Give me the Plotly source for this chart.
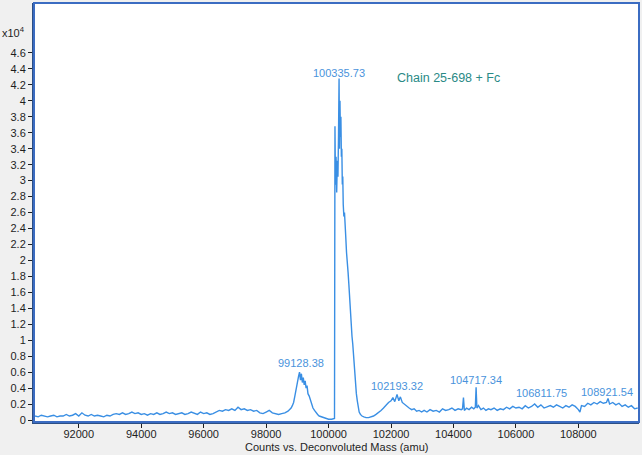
import plotly.graph_objs as go

# deconvoluted mass spectrum, counts in units of 1e4
mass_low = [90600, 90700, 90800, 90900, 91000, 91100, 91200, 91300, 91400, 91500,
            91600, 91700, 91800, 91900, 92000, 92100, 92200, 92300, 92400, 92500,
            92600, 92700, 92800, 92900, 93000, 93100, 93200, 93300, 93400, 93500,
            93600, 93700, 93800, 93900, 94000, 94100, 94200, 94300, 94400, 94500,
            94600, 94700, 94800, 94900, 95000, 95100, 95200, 95300, 95400, 95500,
            95600, 95700, 95800, 95900, 96000, 96100, 96200, 96300, 96400, 96500,
            96600, 96700, 96800, 96900, 97000, 97100, 97200, 97300, 97400, 97500,
            97600, 97700, 97800, 97900, 98000, 98100, 98200, 98300, 98400, 98500,
            98600, 98700, 98800]
counts_low = [0.05, 0.04, 0.06, 0.05, 0.04, 0.05, 0.06, 0.04, 0.05, 0.05,
              0.07, 0.05, 0.06, 0.08, 0.05, 0.09, 0.06, 0.05, 0.07, 0.05,
              0.06, 0.05, 0.04, 0.06, 0.05, 0.07, 0.08, 0.07, 0.09, 0.07,
              0.08, 0.10, 0.08, 0.09, 0.07, 0.08, 0.06, 0.08, 0.07, 0.09,
              0.07, 0.08, 0.10, 0.08, 0.09, 0.07, 0.08, 0.09, 0.07, 0.08,
              0.10, 0.08, 0.07, 0.10, 0.08, 0.09, 0.07, 0.08, 0.10, 0.12,
              0.11, 0.13, 0.12, 0.14, 0.12, 0.16, 0.13, 0.14, 0.12, 0.13,
              0.11, 0.12, 0.09, 0.08, 0.10, 0.12, 0.09, 0.08, 0.07, 0.08,
              0.09, 0.11, 0.15]

# shoulder peak near 99128
mass_p1 = [98840, 98880, 98920, 98960, 99000, 99040, 99070, 99100, 99130, 99160,
           99190, 99220, 99250, 99280, 99310, 99340, 99380, 99420, 99460, 99500,
           99550, 99600, 99650, 99700, 99760, 99820, 99900, 100000, 100100, 100190]
counts_p1 = [0.18, 0.22, 0.30, 0.40, 0.46, 0.55, 0.60, 0.50, 0.58, 0.47,
             0.53, 0.44, 0.49, 0.40, 0.43, 0.33, 0.30, 0.24, 0.21, 0.15,
             0.12, 0.09, 0.07, 0.05, 0.04, 0.03, 0.02, 0.01, 0.01, 0.02]

# main peak 100335.73
mass_main = [100205, 100220, 100240, 100260, 100280, 100300, 100318, 100336, 100350, 100365,
             100380, 100395, 100410, 100425, 100440, 100455, 100470, 100490, 100510, 100530,
             100550, 100575, 100600, 100625, 100650, 100675, 100700, 100725, 100750, 100775,
             100800, 100830, 100860, 100890, 100920, 100950, 100980, 101020, 101070, 101130,
             101200, 101280, 101360, 101440]
counts_main = [3.68, 2.95, 3.30, 2.85, 3.25, 3.05, 3.55, 4.28, 3.40, 4.00,
               3.55, 3.80, 3.30, 3.40, 2.95, 3.05, 2.70, 2.55, 2.60, 2.35,
               2.30, 2.10, 2.00, 1.85, 1.70, 1.50, 1.38, 1.20, 1.05, 0.95,
               0.80, 0.64, 0.45, 0.33, 0.24, 0.16, 0.10, 0.07, 0.05, 0.04,
               0.03, 0.03, 0.04, 0.05]

# tail region up to 109900
mass_high = [101520, 101600, 101680, 101760, 101840, 101920, 102000, 102060, 102120, 102193,
             102250, 102300, 102360, 102420, 102500, 102580, 102660, 102740, 102820, 102900,
             102980, 103060, 103150, 103250, 103350, 103450, 103550, 103650, 103750, 103850,
             103950, 104050, 104150, 104250, 104290, 104320, 104350, 104420, 104500, 104580,
             104650, 104700, 104725, 104750, 104800, 104880, 104960, 105040, 105120, 105200,
             105300, 105400, 105500, 105600, 105700, 105800, 105900, 106000, 106100, 106200,
             106300, 106400, 106500, 106600, 106700, 106800, 106900, 107000, 107100, 107200,
             107300, 107400, 107500, 107600, 107700, 107800, 107900, 108000, 108050, 108100,
             108200, 108300, 108400, 108500, 108600, 108700, 108800, 108900, 108950, 109000,
             109100, 109200, 109300, 109400, 109500, 109600, 109700, 109800, 109900]
counts_high = [0.07, 0.09, 0.12, 0.15, 0.19, 0.22, 0.24, 0.28, 0.23, 0.32,
               0.24, 0.29, 0.22, 0.20, 0.17, 0.15, 0.13, 0.14, 0.11, 0.12,
               0.10, 0.12, 0.10, 0.13, 0.11, 0.12, 0.10, 0.14, 0.12, 0.13,
               0.15, 0.12, 0.14, 0.13, 0.14, 0.28, 0.12, 0.15, 0.13, 0.16,
               0.14, 0.16, 0.41, 0.15, 0.18, 0.13, 0.15, 0.12, 0.14, 0.13,
               0.15, 0.12, 0.14, 0.13, 0.16, 0.14, 0.17, 0.15, 0.16, 0.14,
               0.18, 0.15, 0.17, 0.20, 0.16, 0.19, 0.15, 0.17, 0.18, 0.16,
               0.19, 0.17, 0.15, 0.18, 0.16, 0.19, 0.17, 0.13, 0.10, 0.18,
               0.17, 0.21, 0.19, 0.22, 0.20, 0.23, 0.21, 0.22, 0.27, 0.20,
               0.22, 0.19, 0.21, 0.17, 0.19, 0.16, 0.18, 0.14, 0.15]

# peak labels
label_mass = [100335.73, 99128.38, 102193.32, 104717.34, 106811.75, 108921.54]
label_y = [4.35, 0.71, 0.42, 0.50, 0.34, 0.35]

ytick_vals = [0, 0.2, 0.4, 0.6, 0.8, 1, 1.2, 1.4, 1.6, 1.8, 2, 2.2, 2.4,
              2.6, 2.8, 3, 3.2, 3.4, 3.6, 3.8, 4, 4.2, 4.4, 4.6]
ytick_text = ['0', '0.2', '0.4', '0.6', '0.8', '1', '1.2', '1.4', '1.6', '1.8', '2', '2.2', '2.4',
              '2.6', '2.8', '3', '3.2', '3.4', '3.6', '3.8', '4', '4.2', '4.4', '4.6']
xtick_vals = [92000, 94000, 96000, 98000, 100000, 102000, 104000, 106000, 108000]

mass = mass_low + mass_p1 + mass_main + mass_high
counts = counts_low + counts_p1 + counts_main + counts_high

font = 'Liberation Sans, Arial, sans-serif'

trace = go.Scatter(x=mass, y=counts, mode='lines',
                   line={'color': '#3a8fe4', 'width': 1.4},
                   showlegend=False, hoverinfo='x+y')

notes = []
for m, yv in zip(label_mass, label_y):
    notes.append(dict(x=m, y=yv, xref='x', yref='y', text='%.2f' % m,
                      showarrow=False, font={'family': font, 'size': 11, 'color': '#4a93dc'}))

notes.append(dict(x=103830, y=4.29, xref='x', yref='y', text='Chain 25-698 + Fc',
                  showarrow=False, font={'family': font, 'size': 12.5, 'color': '#2a8a86'}))
notes.append(dict(x=-0.056, y=0.931, xref='paper', yref='paper', xanchor='left', yanchor='middle',
                  text='x10<sup>4</sup>', showarrow=False,
                  font={'family': font, 'size': 11, 'color': '#1e1e1e'}))
notes.append(dict(x=0.5, y=-0.06, xref='paper', yref='paper', yanchor='middle',
                  text='Counts vs. Deconvoluted Mass (amu)', showarrow=False,
                  font={'family': font, 'size': 11, 'color': '#1e1e1e'}))

layout = go.Layout(
    width=642, height=455,
    margin={'l': 34, 'r': 3, 't': 3, 'b': 33},
    paper_bgcolor='#f0f0f0', plot_bgcolor='#ffffff',
    font={'family': font, 'size': 11, 'color': '#1e1e1e'},
    xaxis={'range': [90566, 109942], 'tickvals': xtick_vals, 'tickformat': 'd',
           'automargin': False, 'ticklabelstandoff': -3,
           'showgrid': False, 'zeroline': False, 'ticks': 'outside', 'ticklen': 4,
           'tickcolor': '#1e1e1e', 'showline': True, 'linecolor': '#2c4f86', 'linewidth': 2},
    yaxis={'range': [-0.025, 5.226], 'tickvals': ytick_vals, 'ticktext': ytick_text,
           'automargin': False,
           'showgrid': False, 'zeroline': False, 'ticks': 'outside', 'ticklen': 4,
           'tickcolor': '#1e1e1e', 'showline': True, 'linecolor': '#2c4f86', 'linewidth': 2},
    shapes=[dict(type='rect', xref='paper', yref='paper', x0=0, y0=0, x1=1, y1=1,
                 line={'color': '#3b6cc2', 'width': 2})],
    annotations=notes,
)

fig = go.Figure(data=[trace], layout=layout)
# drop the default page margin so the chart sits at the window corner
fig.write_html("out.html", config={'displayModeBar': False},
               post_script="document.body.style.margin='0';document.body.style.padding='0';")
